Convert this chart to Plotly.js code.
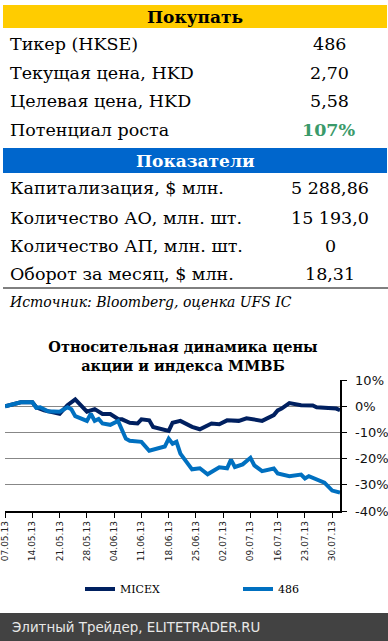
<!DOCTYPE html>
<html>
<head>
<meta charset="utf-8">
<script src="https://cdn.plot.ly/plotly-3.0.1.min.js"></script>
<style>html,body{margin:0;padding:0;background:#fff;}#chart{width:388px;height:641px;}</style>
</head>
<body>
<div id="chart"></div>
<script>
// ---- Table data ----
const buyHeader = 'Покупать';
const buyLabels = ['Тикер (HKSE)', 'Текущая цена, HKD', 'Целевая цена, HKD', 'Потенциал роста'];
const buyValues = ['486', '2,70', '5,58', '107%'];
const statHeader = 'Показатели';
const statLabels = ['Капитализация, $ млн.', 'Количество АО, млн. шт.', 'Количество АП, млн. шт.', 'Оборот за месяц, $ млн.'];
const statValues = ['5 288,86', '15 193,0', '0', '18,31'];
const sourceText = 'Источник: Bloomberg, оценка UFS IC';
const chartTitle = 'Относительная динамика цены<br>акции и индекса ММВБ';
const footerText = 'Элитный Трейдер, ELITETRADER.RU';

// ---- Chart data ----
const micexDates = ['2013-05-07','2013-05-11','2013-05-14','2013-05-15','2013-05-17','2013-05-21','2013-05-23','2013-05-25',
  '2013-05-28','2013-05-30','2013-06-01','2013-06-03','2013-06-05','2013-06-06','2013-06-08','2013-06-10','2013-06-11',
  '2013-06-13','2013-06-14','2013-06-18','2013-06-19','2013-06-21','2013-06-24','2013-06-26','2013-06-29','2013-07-01',
  '2013-07-03','2013-07-06','2013-07-08','2013-07-10','2013-07-12','2013-07-15','2013-07-16','2013-07-17','2013-07-19',
  '2013-07-22','2013-07-25','2013-07-26','2013-07-29','2013-07-31','2013-08-01'];
const micexValues = [0, 1.5, 1.5, -0.4, -1.6, -2.9, 0.4, 2.6,
  -2.1, -1.1, -3.0, -3.0, -4.9, -5.0, -6.3, -6.6, -5.0,
  -5.4, -7.9, -9.4, -6.3, -5.6, -7.9, -8.8, -6.6, -6.9,
  -5.4, -5.6, -4.6, -5.0, -5.6, -3.4, -1.6, -0.9, 1.2,
  0.4, 0.3, -0.4, -0.6, -0.9, -1.5];
const stockDates = ['2013-05-07','2013-05-11','2013-05-14','2013-05-15','2013-05-16','2013-05-18','2013-05-21','2013-05-23',
  '2013-05-24','2013-05-25','2013-05-28','2013-05-29','2013-05-30','2013-05-31','2013-06-01','2013-06-03','2013-06-05',
  '2013-06-06','2013-06-07','2013-06-08','2013-06-11','2013-06-13','2013-06-17','2013-06-18','2013-06-19','2013-06-20',
  '2013-06-21','2013-06-24','2013-06-26','2013-06-28','2013-07-01','2013-07-03','2013-07-04','2013-07-05','2013-07-07',
  '2013-07-09','2013-07-10','2013-07-12','2013-07-15','2013-07-16','2013-07-19','2013-07-22','2013-07-23','2013-07-24',
  '2013-07-26','2013-07-28','2013-07-30','2013-08-01'];
const stockValues = [0, 1.5, 1.5, -0.6, -0.4, -1.9, -2.1, -0.4,
  -1.2, -3.8, -5.6, -2.9, -5.6, -4.9, -6.6, -7.1, -5.6,
  -9.4, -12.4, -13.2, -13.6, -17.0, -15.4, -12.4, -14.3, -13.6,
  -18.1, -24.1, -23.7, -26.0, -23.3, -23.7, -20.4, -23.2, -22.2,
  -19.7, -22.6, -24.8, -23.8, -25.7, -26.7, -26.1, -27.6, -26.7,
  -27.9, -29.2, -32.2, -33.0];
const seriesNames = ['MICEX', '486'];
const xTickVals = ['2013-05-07','2013-05-14','2013-05-21','2013-05-28','2013-06-04','2013-06-11','2013-06-18',
  '2013-06-25','2013-07-02','2013-07-09','2013-07-16','2013-07-23','2013-07-30'];
const xTickText = ['07.05.13','14.05.13','21.05.13','28.05.13','04.06.13','11.06.13','18.06.13',
  '25.06.13','02.07.13','09.07.13','16.07.13','23.07.13','30.07.13'];
const yTickVals = [10, 0, -10, -20, -30, -40];
const yTickText = ['10%', '0%', '-10%', '-20%', '-30%', '-40%'];

// ---- Pixel -> paper helpers ----
const PL = 5, PR = 340, PT = 380, PB = 511;
const X = px => (px - PL) / (PR - PL);
const Y = py => (PB - py) / (PB - PT);

const serif = 'DejaVu Serif';
const annotations = [];
const shapes = [];

function rect(x0, y0, x1, y1, color) {
  shapes.push({type: 'rect', xref: 'paper', yref: 'paper', x0: X(x0), x1: X(x1), y0: Y(y1), y1: Y(y0),
    fillcolor: color, line: {width: 0}, layer: 'above'});
}
function hline(x0, x1, y, color, w) {
  shapes.push({type: 'line', xref: 'paper', yref: 'paper', x0: X(x0), x1: X(x1), y0: Y(y), y1: Y(y),
    line: {color: color, width: w}, layer: 'above'});
}
function text(t, px, py, anchor, font) {
  annotations.push({text: t, xref: 'paper', yref: 'paper', x: X(px), y: Y(py), xanchor: anchor, yanchor: 'middle',
    showarrow: false, font: font});
}

// Buy block
rect(3, 5, 387, 28, '#FFCC00');
text('<b>' + buyHeader + '</b>', 195, 17, 'center', {family: serif, size: 17, color: '#000'});
const buyY = [44, 73, 101, 130];
buyLabels.forEach((l, i) => {
  text(l, 8, buyY[i], 'left', {family: serif, size: 17.5, color: '#000'});
  const isLast = i === buyLabels.length - 1;
  text(isLast ? '<b>' + buyValues[i] + '</b>' : buyValues[i], 329, buyY[i], 'center',
    {family: serif, size: 17.5, color: isLast ? '#3A9A6A' : '#000'});
});
// Stats block
rect(3, 148, 387, 173, '#0066CC');
text('<b>' + statHeader + '</b>', 195, 161, 'center', {family: serif, size: 17, color: '#fff'});
const statY = [188, 218, 246, 274];
statLabels.forEach((l, i) => {
  text(l, 8, statY[i], 'left', {family: serif, size: 17.5, color: '#000'});
  text(statValues[i], 330, statY[i], 'center', {family: serif, size: 17.5, color: '#000'});
});
hline(3, 388, 288, '#000', 1);
text('<i>' + sourceText + '</i>', 7, 302, 'left', {family: serif, size: 14, color: '#000'});

// Footer
rect(0, 613, 388, 641, '#424242');
text(footerText, 10, 627, 'left', {family: 'DejaVu Sans', size: 13.4, color: '#E8E8E8'});

const traces = [
  {x: micexDates, y: micexValues, name: seriesNames[0], type: 'scatter', mode: 'lines',
   line: {color: '#002060', width: 4}},
  {x: stockDates, y: stockValues, name: seriesNames[1], type: 'scatter', mode: 'lines',
   line: {color: '#0070C0', width: 4}}
];

const layout = {
  width: 388, height: 641,
  margin: {l: PL, r: 388 - PR, t: PT, b: 641 - PB, autoexpand: false},
  paper_bgcolor: '#fff', plot_bgcolor: '#fff',
  showlegend: true,
  title: {text: '<b>' + chartTitle + '</b>', x: 183 / 388, xanchor: 'center', y: 1 - 352 / 641, yanchor: 'middle',
    font: {family: serif, size: 14.5, color: '#000'}},
  legend: {orientation: 'h', x: X(80), y: Y(589), xanchor: 'left', yanchor: 'middle',
    font: {family: serif, size: 11, color: '#000'}, entrywidth: 113, entrywidthmode: 'pixels',
    bgcolor: 'rgba(0,0,0,0)', tracegroupgap: 0},
  xaxis: {type: 'date', range: ['2013-05-06 23:00', '2013-08-01'], tickmode: 'array', tickvals: xTickVals, ticktext: xTickText,
    tickangle: -90, ticks: 'outside', ticklen: 5, tickcolor: '#000', showline: true, linecolor: '#000', linewidth: 1.5,
    ticklabeloverflow: 'allow',
    showgrid: false, zeroline: false, tickfont: {family: 'DejaVu Sans', size: 9, color: '#222'}, fixedrange: true},
  yaxis: {side: 'right', range: [-40, 10], tickmode: 'array', tickvals: yTickVals, ticktext: yTickText,
    ticks: 'outside', ticklen: 5, tickcolor: '#000', showline: true, linecolor: '#000', linewidth: 1.5,
    ticklabelstandoff: 6,
    showgrid: true, gridcolor: '#878787', gridwidth: 1, zeroline: false,
    tickfont: {family: 'DejaVu Sans', size: 13, color: '#111'}, fixedrange: true},
  shapes: shapes,
  annotations: annotations
};

Plotly.newPlot('chart', traces, layout, {displayModeBar: false, staticPlot: true});
</script>
</body>
</html>
